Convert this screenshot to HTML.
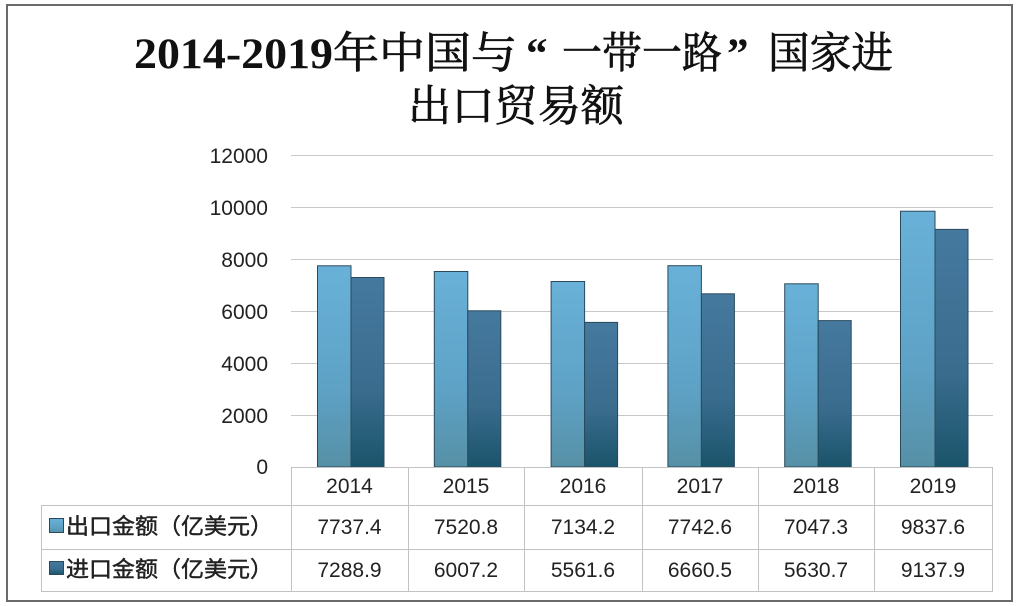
<!DOCTYPE html>
<html><head><meta charset="utf-8">
<style>
html,body{margin:0;padding:0;background:#fff;}
svg{display:block;}
</style></head>
<body>
<svg width="1020" height="606" viewBox="0 0 1020 606" xmlns="http://www.w3.org/2000/svg">
<defs>
<linearGradient id="ge" x1="0" y1="0" x2="0" y2="1">
<stop offset="0" stop-color="#69b1d8"/>
<stop offset="0.6" stop-color="#5ea2c6"/>
<stop offset="1" stop-color="#5690a6"/>
</linearGradient>
<linearGradient id="gi" x1="0" y1="0" x2="0" y2="1">
<stop offset="0" stop-color="#45799e"/>
<stop offset="0.6" stop-color="#3a6c8e"/>
<stop offset="1" stop-color="#1a546a"/>
</linearGradient>
</defs>
<rect x="0" y="0" width="1020" height="606" fill="#fff"/>
<rect x="7" y="5" width="1005" height="596" fill="#fff" stroke="#6a6a6a" stroke-width="2"/>

<!-- Title -->
<g font-family="'Liberation Serif','Noto Serif CJK SC',serif" font-size="43" fill="#111">
<text x="134" y="68" textLength="199" lengthAdjust="spacingAndGlyphs" font-weight="bold">2014-2019</text>
<text x="333" y="68" textLength="184" lengthAdjust="spacingAndGlyphs" stroke="#111" stroke-width="0.7">年中国与</text>
<text x="526" y="68" font-weight="bold">“</text>
<text x="562" y="68" textLength="160" lengthAdjust="spacingAndGlyphs" stroke="#111" stroke-width="0.7">一带一路</text>
<text x="727" y="68" font-weight="bold">”</text>
<text x="768" y="68" textLength="125" lengthAdjust="spacingAndGlyphs" stroke="#111" stroke-width="0.7">国家进</text>
<text x="408" y="121" textLength="216" lengthAdjust="spacingAndGlyphs" stroke="#111" stroke-width="0.7">出口贸易额</text>
</g>

<!-- Gridlines -->
<g stroke="#c8c8c8" stroke-width="1">
<line x1="291" y1="155.5" x2="993" y2="155.5"/>
<line x1="291" y1="207.5" x2="993" y2="207.5"/>
<line x1="291" y1="259.5" x2="993" y2="259.5"/>
<line x1="291" y1="311.5" x2="993" y2="311.5"/>
<line x1="291" y1="363.5" x2="993" y2="363.5"/>
<line x1="291" y1="415.5" x2="993" y2="415.5"/>
</g>

<!-- Y labels -->
<g font-family="'Liberation Sans',sans-serif" font-size="21" fill="#222" text-anchor="end">
<text x="268" y="163">12000</text>
<text x="268" y="215">10000</text>
<text x="268" y="267">8000</text>
<text x="268" y="319">6000</text>
<text x="268" y="371">4000</text>
<text x="268" y="423">2000</text>
<text x="268" y="474">0</text>
</g>

<!-- Bars -->
<g stroke="#2a4a5c" stroke-width="1">
<rect x="317.5" y="265.8" width="33.5" height="201.2" fill="url(#ge)"/>
<rect x="351" y="277.5" width="33" height="189.5" fill="url(#gi)"/>
<rect x="434.3" y="271.5" width="33.5" height="195.5" fill="url(#ge)"/>
<rect x="467.8" y="310.8" width="33" height="156.2" fill="url(#gi)"/>
<rect x="551.1" y="281.5" width="33.5" height="185.5" fill="url(#ge)"/>
<rect x="584.6" y="322.4" width="33" height="144.6" fill="url(#gi)"/>
<rect x="667.9" y="265.7" width="33.5" height="201.3" fill="url(#ge)"/>
<rect x="701.4" y="293.8" width="33" height="173.2" fill="url(#gi)"/>
<rect x="784.7" y="283.8" width="33.5" height="183.2" fill="url(#ge)"/>
<rect x="818.2" y="320.6" width="33" height="146.4" fill="url(#gi)"/>
<rect x="900.5" y="211.2" width="34.5" height="255.8" fill="url(#ge)"/>
<rect x="935" y="229.4" width="33" height="237.6" fill="url(#gi)"/>
</g>

<!-- Table -->
<g stroke="#c2c2c2" stroke-width="1" fill="none">
<line x1="291" y1="467.5" x2="992" y2="467.5"/>
<line x1="41" y1="505.5" x2="992" y2="505.5"/>
<line x1="41" y1="549.5" x2="992" y2="549.5"/>
<line x1="41" y1="591.5" x2="992" y2="591.5"/>
<line x1="41.5" y1="505" x2="41.5" y2="592"/>
<line x1="291.5" y1="467" x2="291.5" y2="592"/>
<line x1="408.5" y1="467" x2="408.5" y2="592"/>
<line x1="524.5" y1="467" x2="524.5" y2="592"/>
<line x1="642.5" y1="467" x2="642.5" y2="592"/>
<line x1="758.5" y1="467" x2="758.5" y2="592"/>
<line x1="874.5" y1="467" x2="874.5" y2="592"/>
<line x1="992.5" y1="467" x2="992.5" y2="592"/>
</g>

<!-- Legend squares -->
<rect x="49.5" y="518.5" width="14" height="14" fill="url(#ge)" stroke="#2a4a5c" stroke-width="1"/>
<rect x="49.5" y="561.5" width="14" height="13" fill="url(#gi)" stroke="#2a4a5c" stroke-width="1"/>

<g font-family="'Liberation Sans','Noto Sans CJK SC',sans-serif" font-size="22" fill="#222" stroke="#222" stroke-width="0.45">
<text x="66" y="534" textLength="207" lengthAdjust="spacingAndGlyphs">出口金额（亿美元）</text>
<text x="66" y="577" textLength="207" lengthAdjust="spacingAndGlyphs">进口金额（亿美元）</text>
</g>

<g font-family="'Liberation Sans',sans-serif" font-size="21" fill="#222" text-anchor="middle">
<text x="349.5" y="493">2014</text>
<text x="466" y="493">2015</text>
<text x="583" y="493">2016</text>
<text x="700" y="493">2017</text>
<text x="816" y="493">2018</text>
<text x="933" y="493">2019</text>

<text x="349.5" y="534">7737.4</text>
<text x="466" y="534">7520.8</text>
<text x="583" y="534">7134.2</text>
<text x="700" y="534">7742.6</text>
<text x="816" y="534">7047.3</text>
<text x="933" y="534">9837.6</text>

<text x="349.5" y="577">7288.9</text>
<text x="466" y="577">6007.2</text>
<text x="583" y="577">5561.6</text>
<text x="700" y="577">6660.5</text>
<text x="816" y="577">5630.7</text>
<text x="933" y="577">9137.9</text>
</g>
</svg>
</body></html>
